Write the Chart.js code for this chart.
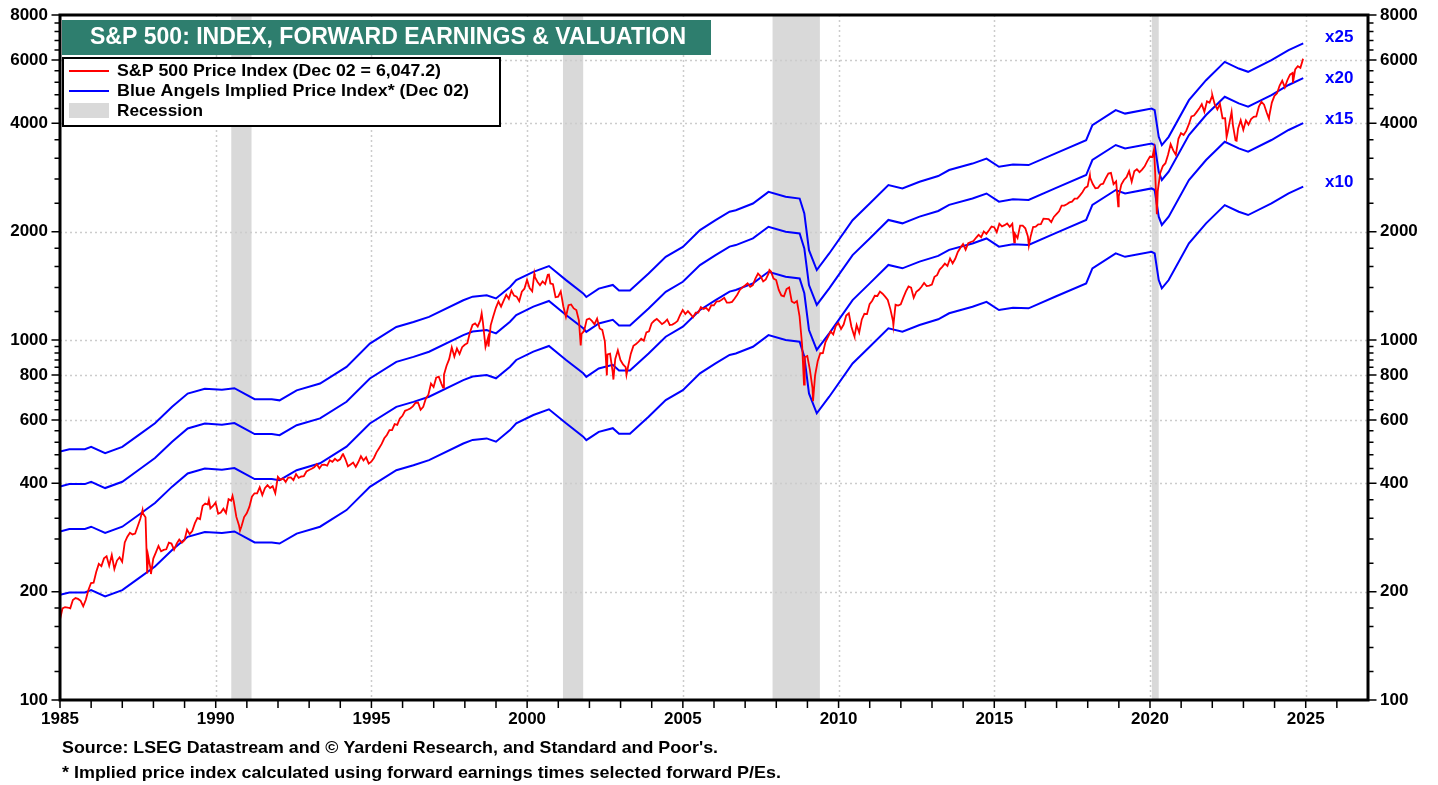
<!DOCTYPE html>
<html>
<head>
<meta charset="utf-8">
<script src="https://cdn.jsdelivr.net/npm/chart.js@4.4.1/dist/chart.umd.min.js"></script>
<style>
  html, body { margin: 0; padding: 0; background: #fff; }
  #wrap { width: 1438px; height: 785px; position: relative; }
</style>
</head>
<body>
<div id="wrap"><canvas id="chart"></canvas></div>
<script>
// S&P 500 month-end closes, Jan 1985 .. Nov 2024
const spxFirstYear = 1985
const spxMonthly = [
  179.6,181.2,180.7,179.8,189.6,191.9,190.9,188.6,182.1,189.8,202.2,211.3,
  211.8,226.9,238.9,235.5,247.4,250.8,236.1,252.9,231.3,244.0,249.2,242.2,
  274.1,284.2,291.7,288.4,290.1,304.0,318.7,329.8,321.8,251.8,230.3,247.1,
  257.1,267.8,258.9,261.3,262.2,273.5,272.0,261.5,271.9,279.0,273.7,277.7,
  297.5,288.9,294.9,309.6,320.5,318.0,346.1,351.5,349.2,340.4,346.0,353.4,
  329.1,331.9,339.9,330.8,361.2,358.0,356.2,322.6,306.1,304.0,322.2,330.2,
  343.9,367.1,375.2,375.3,389.8,371.2,387.8,395.4,387.9,392.5,375.2,417.1,
  408.8,412.7,403.7,415.0,415.4,408.1,424.2,414.0,417.8,418.7,431.4,435.7,
  438.8,443.4,451.7,440.2,450.2,450.5,448.1,463.6,458.9,467.8,461.8,466.5,
  481.6,467.1,445.8,450.9,456.5,444.3,458.3,475.5,462.7,472.4,453.7,459.3,
  470.4,487.4,500.7,514.7,533.4,544.8,562.1,561.9,584.4,581.5,605.4,615.9,
  636.0,640.4,645.5,654.2,669.1,670.6,640.0,652.0,687.3,705.3,757.0,740.7,
  786.2,790.8,757.1,801.3,848.3,885.1,954.3,899.5,947.3,914.6,955.4,970.4,
  980.3,1049.3,1101.8,1111.8,1090.8,1133.8,1120.7,957.3,1017.0,1098.7,1163.6,1229.2,
  1279.6,1238.3,1286.4,1335.2,1301.8,1372.7,1328.7,1320.4,1282.7,1362.9,1388.9,1469.3,
  1394.5,1366.4,1498.6,1452.4,1420.6,1454.6,1430.8,1517.7,1436.5,1429.4,1315.0,1320.3,
  1366.0,1239.9,1160.3,1249.5,1255.8,1224.4,1211.2,1133.6,1040.9,1059.8,1139.5,1148.1,
  1130.2,1106.7,1147.4,1076.9,1067.1,989.8,911.6,916.1,815.3,885.8,936.3,879.8,
  855.7,841.2,848.2,916.9,963.6,974.5,990.3,1008.0,996.0,1050.7,1058.2,1111.9,
  1131.1,1144.9,1126.2,1107.3,1120.7,1140.8,1101.7,1104.2,1114.6,1130.2,1173.8,1211.9,
  1181.3,1203.6,1180.6,1156.9,1191.5,1191.3,1234.2,1220.3,1228.8,1207.0,1249.5,1248.3,
  1280.1,1280.7,1294.8,1310.6,1270.1,1270.2,1276.7,1303.8,1335.9,1377.9,1400.6,1418.3,
  1438.2,1406.8,1420.9,1482.4,1530.6,1503.4,1455.3,1474.0,1526.8,1549.4,1481.1,1468.4,
  1378.6,1330.6,1322.7,1385.6,1400.4,1280.0,1267.4,1282.8,1166.4,968.8,896.2,903.3,
  825.9,735.1,797.9,872.8,919.1,919.3,987.5,1020.6,1057.1,1036.2,1095.6,1115.1,
  1073.9,1104.5,1169.4,1186.7,1089.4,1030.7,1101.6,1049.3,1141.2,1183.3,1180.6,1257.6,
  1286.1,1327.2,1325.8,1363.6,1345.2,1320.6,1292.3,1218.9,1131.4,1253.3,1247.0,1257.6,
  1312.4,1365.7,1408.5,1397.9,1310.3,1362.2,1379.3,1406.6,1440.7,1412.2,1416.2,1426.2,
  1498.1,1514.7,1569.2,1597.6,1630.7,1606.3,1685.7,1633.0,1681.6,1756.5,1805.8,1848.4,
  1782.6,1859.5,1872.3,1884.0,1923.6,1960.2,1930.7,2003.4,1972.3,2018.1,2067.6,2058.9,
  1995.0,2104.5,2067.9,2085.5,2107.4,2063.1,2103.8,1972.2,1920.0,2079.4,2080.4,2043.9,
  1940.2,1932.2,2059.7,2065.3,2097.0,2098.9,2173.6,2171.0,2168.3,2126.2,2198.8,2238.8,
  2278.9,2363.6,2362.7,2384.2,2411.8,2423.4,2470.3,2471.7,2519.4,2575.3,2647.6,2673.6,
  2823.8,2713.8,2640.9,2648.1,2705.3,2718.4,2816.3,2901.5,2914.0,2711.7,2760.2,2506.9,
  2704.1,2784.5,2834.4,2945.8,2752.1,2941.8,2980.4,2926.5,2976.7,3037.6,3141.0,3230.8,
  3225.5,2954.2,2584.6,2912.4,3044.3,3100.3,3271.1,3500.3,3363.0,3270.0,3621.6,3756.1,
  3714.2,3811.2,3972.9,4181.2,4204.1,4297.5,4395.3,4522.7,4307.5,4605.4,4567.0,4766.2,
  4515.6,4373.9,4530.4,4131.9,4132.2,3785.4,4130.3,3955.0,3585.6,3872.0,4080.1,3839.5,
  4076.6,3970.2,4109.3,4169.5,4179.8,4450.4,4589.0,4507.7,4288.1,4193.8,4567.8,4769.8,
  4845.7,5096.3,5254.4,5035.7,5277.5,5460.5,5522.3,5648.4,5762.5,5705.5,6032.4
]
// intra-month highs and lows seen on the red line [year, value]
const spxSwings = [
  [1985.0,167.2],[1987.65,336.8],[1987.8,224.8],[1987.92,223.9],[1989.78,359.8],
  [1990.54,369.0],[1990.78,295.5],[1994.09,482.0],[1997.3,737.7],[1998.54,1186.8],
  [1998.76,959.4],[2000.23,1527.5],[2000.7,1520.8],[2001.72,965.8],[2002.56,797.7],
  [2002.77,776.8],[2003.19,800.7],[2007.78,1565.2],[2008.89,752.4],[2009.18,676.5],
  [2010.51,1022.6],[2011.33,1363.6],[2011.76,1099.2],[2015.64,1867.6],[2016.11,1829.1],
  [2018.07,2872.9],[2018.98,2351.1],[2020.13,3386.2],[2020.22,2237.4],[2022.0,4796.6],
  [2022.46,3666.8],[2022.62,4305.2],[2022.78,3577.0],[2023.82,4117.4],[2024.59,5186.3],
  [2024.92,6047.2]
]

// forward earnings
const earnDates = [
  1985.0,1985.3,1985.8,1986.0,1986.45,1987.0,1987.5,1988.05,1988.6,1989.1,1989.65,1990.2,
  1990.6,1991.25,1991.8,1992.05,1992.6,1993.35,1994.2,1994.95,1995.8,1996.35,1996.85,1997.95,
  1998.25,1998.7,1999.0,1999.45,1999.65,2000.2,2000.7,2001.25,2001.8,2001.9,2002.3,2002.75,
  2002.95,2003.3,2003.9,2004.45,2005.0,2005.55,2006.05,2006.5,2006.7,2007.25,2007.75,2008.3,
  2008.75,2008.9,2009.05,2009.3,2009.7,2010.45,2011.0,2011.6,2012.05,2012.6,2013.2,2013.55,
  2014.3,2014.75,2015.15,2015.6,2016.1,2016.95,2017.95,2018.15,2018.9,2019.2,2020.05,2020.15,
  2020.28,2020.38,2020.6,2021.25,2021.8,2022.4,2022.85,2023.15,2023.9,2024.45,2024.92
]
const forwardEarnings = [
  19.6,19.9,19.9,20.2,19.4,20.2,21.7,23.5,26.1,28.4,29.3,29.1,
  29.4,27.4,27.4,27.2,29.0,30.3,33.7,39.1,43.5,44.9,46.4,51.6,
  52.8,53.3,52.2,56.2,58.7,61.9,64.2,58.7,53.9,52.7,55.6,56.9,
  54.9,54.9,61.2,68.1,72.6,80.8,86.1,90.9,91.8,95.8,103.2,100.0,
  98.9,89.9,71.1,62.6,69.6,86.1,95.8,107.8,105.5,110.1,114.2,118.7,
  123.7,127.7,121.2,123.0,122.5,131.9,143.7,158.2,174.1,170.3,175.9,174.1,
  146.8,139.2,146.8,185.6,210.9,237.1,227.2,222.5,239.7,255.6,267.0
]
const peMultiples = [25, 20, 15, 10]
const peLabels = ['x25', 'x20', 'x15', 'x10']
const peLabelShift = [-6, 0, -4, -4]

const recessions = [[1990.5,1991.15],[2001.15,2001.8],[2007.88,2009.4],[2020.06,2020.28]]

const xLabelYears = [1985,1990,1995,2000,2005,2010,2015,2020,2025]
const yLabelTicks = [100,200,400,600,800,1000,2000,4000,6000,8000]
const yMinorTicks = [120,140,160,180,240,280,320,360,440,480,520,560,640,680,720,760,840,880,920,960,
  1200,1400,1600,1800,2400,2800,3200,3600,4400,4800,5200,5600,6400,6800,7200,7600]

const FONT = "'Liberation Sans', Arial, sans-serif"
const RED = '#ff0000'
const BLUE = '#0000ff'

// build red series: month-ends plus swings, sorted by date
const spxPoints = spxMonthly.map((v, i) => ({ x: spxFirstYear + (i + 1) / 12 - 0.004, y: v }))
  .concat(spxSwings.map(p => ({ x: p[0], y: p[1] })))
  .sort((a, b) => a.x - b.x)

const bandSets = peMultiples.map(pe => ({
  label: 'x' + pe,
  data: earnDates.map((d, i) => ({ x: d, y: forwardEarnings[i] * pe })),
  borderColor: BLUE,
  borderWidth: 2,
  pointRadius: 0,
  tension: 0
}))

function fitText(ctx, text, x, y, width, font, color) {
  ctx.save()
  ctx.font = font
  const w = ctx.measureText(text).width
  ctx.translate(x, y)
  ctx.scale(width / w, 1)
  ctx.fillStyle = color
  ctx.textBaseline = 'middle'
  ctx.textAlign = 'left'
  ctx.fillText(text, 0, 0)
  ctx.restore()
}

const decor = {
  id: 'decor',
  beforeDatasetsDraw(chart) {
    const { ctx, chartArea: a, scales: { x, y } } = chart
    ctx.save()
    ctx.fillStyle = '#d9d9d9'
    recessions.forEach(([s, e]) => {
      const x0 = x.getPixelForValue(s), x1 = x.getPixelForValue(e)
      ctx.fillRect(x0, a.top, x1 - x0, a.bottom - a.top)
    })
    ctx.strokeStyle = '#cccccc'
    ctx.lineWidth = 1.5
    ctx.setLineDash([2, 3])
    yLabelTicks.forEach(v => {
      if (v <= 100 || v >= 8000) return
      const py = Math.round(y.getPixelForValue(v)) + 0.5
      ctx.beginPath(); ctx.moveTo(a.left, py); ctx.lineTo(a.right, py); ctx.stroke()
    })
    xLabelYears.forEach(v => {
      if (v === 1985) return
      const px = Math.round(x.getPixelForValue(v)) + 0.5
      ctx.beginPath(); ctx.moveTo(px, a.top); ctx.lineTo(px, a.bottom); ctx.stroke()
    })
    ctx.restore()
  },
  afterDatasetsDraw(chart) {
    const { ctx, chartArea: a, scales: { x, y } } = chart
    ctx.save()
    // frame
    ctx.strokeStyle = '#000'
    ctx.lineWidth = 3
    ctx.strokeRect(a.left, a.top, a.right - a.left, a.bottom - a.top)
    // tick marks
    ctx.lineWidth = 1.5
    ctx.beginPath()
    yLabelTicks.concat(yMinorTicks).forEach(v => {
      const py = y.getPixelForValue(v)
      const len = yLabelTicks.includes(v) ? 7 : 4
      ctx.moveTo(a.left, py); ctx.lineTo(a.left - 1.5 - len, py)
      ctx.moveTo(a.right, py); ctx.lineTo(a.right + 1.5 + len, py)
    })
    for (let yr = 1985; yr <= 2026; yr++) {
      const px = x.getPixelForValue(yr)
      ctx.moveTo(px, a.bottom); ctx.lineTo(px, a.bottom + 8)
    }
    ctx.stroke()

    // band labels
    ctx.font = 'bold 17px ' + FONT
    ctx.fillStyle = BLUE
    ctx.textBaseline = 'middle'
    peMultiples.forEach((pe, i) => {
      const last = forwardEarnings[forwardEarnings.length - 1] * pe
      ctx.fillText(peLabels[i], 1325, y.getPixelForValue(last) + peLabelShift[i])
    })

    // title box
    ctx.fillStyle = '#2e7e6e'
    ctx.fillRect(62, 20, 649, 35)
    fitText(ctx, 'S&P 500: INDEX, FORWARD EARNINGS & VALUATION', 90, 38, 596, 'bold 23px ' + FONT, '#fff')

    // legend box
    ctx.fillStyle = '#fff'
    ctx.fillRect(63, 58, 437, 68)
    ctx.lineWidth = 2
    ctx.strokeStyle = '#000'
    ctx.strokeRect(63, 58, 437, 68)
    ctx.strokeStyle = RED
    ctx.beginPath(); ctx.moveTo(69, 71); ctx.lineTo(109, 71); ctx.stroke()
    ctx.strokeStyle = BLUE
    ctx.beginPath(); ctx.moveTo(69, 91); ctx.lineTo(109, 91); ctx.stroke()
    ctx.fillStyle = '#d9d9d9'
    ctx.fillRect(69, 103, 40, 15)
    fitText(ctx, 'S&P 500 Price Index (Dec 02 = 6,047.2)', 117, 71, 324, 'bold 17px ' + FONT, '#000')
    fitText(ctx, 'Blue Angels Implied Price Index* (Dec 02)', 117, 91, 352, 'bold 17px ' + FONT, '#000')
    fitText(ctx, 'Recession', 117, 111, 86, 'bold 17px ' + FONT, '#000')

    // source notes
    fitText(ctx, "Source: LSEG Datastream and \u00A9 Yardeni Research, and Standard and Poor's.", 62, 748, 656, 'bold 17px ' + FONT, '#000')
    fitText(ctx, '* Implied price index calculated using forward earnings times selected forward P/Es.', 62, 773, 719, 'bold 17px ' + FONT, '#000')
    ctx.restore()
  }
}

const yAxis = (pos, width) => ({
  type: 'logarithmic',
  position: pos,
  min: 100,
  max: 8000,
  grid: { display: false, drawTicks: false },
  border: { display: false },
  afterBuildTicks: s => { s.ticks = yLabelTicks.map(v => ({ value: v })) },
  afterFit: s => { s.width = width; s.paddingTop = 0; s.paddingBottom = 0 },
  ticks: {
    autoSkip: false,
    padding: 12,
    color: '#000',
    font: { family: FONT, size: 17, weight: 'bold' },
    callback: v => String(v)
  }
})

new Chart(document.getElementById('chart'), {
  type: 'line',
  data: {
    datasets: [{
      label: 'S&P 500 Price Index',
      data: spxPoints,
      borderColor: RED,
      borderWidth: 1.8,
      pointRadius: 0,
      tension: 0
    }].concat(bandSets)
  },
  options: {
    responsive: true,
    maintainAspectRatio: false,
    animation: false,
    layout: { padding: { top: 15, left: 0, right: 0, bottom: 0 } },
    plugins: { legend: { display: false }, tooltip: { enabled: false } },
    scales: {
      x: {
        type: 'linear',
        min: 1985,
        max: 2027,
        grid: { display: false, drawTicks: false },
        border: { display: false },
        afterBuildTicks: s => {
          const t = []
          for (let yr = 1985; yr <= 2027; yr++) t.push({ value: yr })
          s.ticks = t
        },
        afterFit: s => { s.height = 85; s.paddingLeft = 0; s.paddingRight = 0 },
        ticks: {
          autoSkip: false,
          maxRotation: 0,
          padding: 9,
          color: '#000',
          font: { family: FONT, size: 17, weight: 'bold' },
          callback: v => xLabelYears.includes(v) ? String(v) : ''
        }
      },
      y: yAxis('left', 60),
      y2: yAxis('right', 70)
    }
  },
  plugins: [decor]
})
</script>
</body>
</html>
